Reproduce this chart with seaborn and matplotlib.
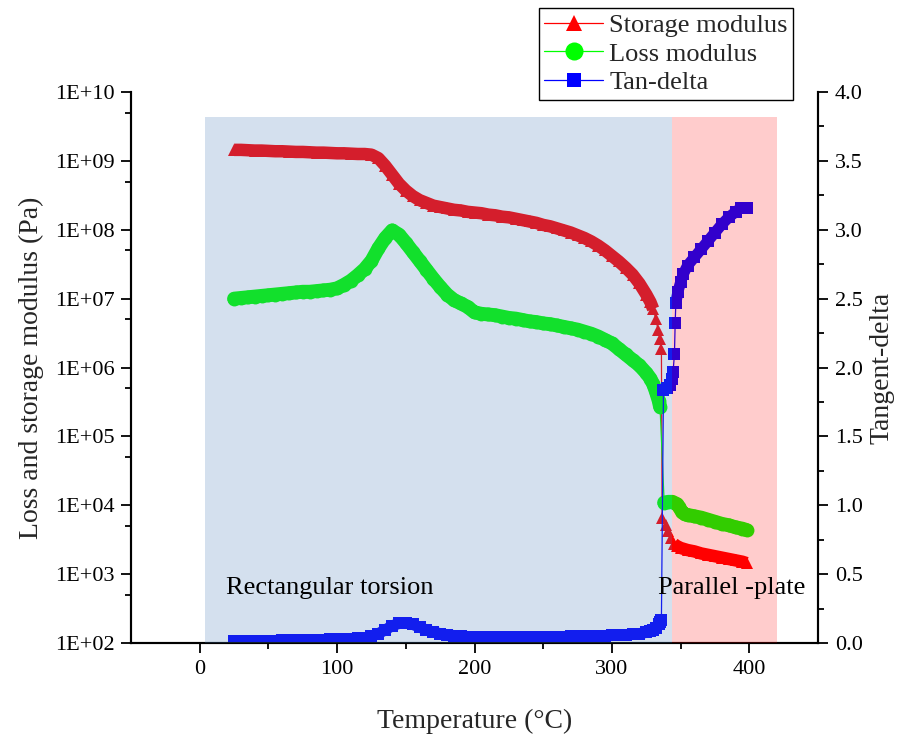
import numpy as np
import pandas as pd
import matplotlib
matplotlib.use("Agg")
import matplotlib.pyplot as plt
import seaborn as sns
from matplotlib.ticker import MultipleLocator, FixedLocator, FuncFormatter, FormatStrFormatter

# Temperatures of the main sweep (25 ... 325 C, every 5 C)
temp_grid = list(range(25, 330, 5))

# Storage modulus, log10(Pa)
storage_log_grid = [9.16, 9.16, 9.155, 9.15, 9.15, 9.145, 9.14, 9.14, 9.135, 9.13,
                    9.13, 9.125, 9.12, 9.12, 9.115, 9.11, 9.11, 9.105, 9.10, 9.10,
                    9.09, 9.04, 8.93, 8.80, 8.67, 8.57, 8.49, 8.43, 8.39, 8.35,
                    8.33, 8.31, 8.29, 8.28, 8.26, 8.25, 8.24, 8.22, 8.21, 8.19,
                    8.18, 8.16, 8.14, 8.12, 8.10, 8.07, 8.05, 8.02, 7.99, 7.96,
                    7.92, 7.88, 7.83, 7.77, 7.70, 7.62, 7.54, 7.45, 7.35, 7.22,
                    7.06]
storage_tail_t = [328, 330, 332, 333.5, 335, 336, 336.5, 339, 341, 343, 345, 347,
                  350, 355, 360, 365, 370, 375, 380, 385, 390, 395, 398]
storage_tail_log = [6.95, 6.85, 6.70, 6.55, 6.42, 6.27, 3.82, 3.72, 3.62, 3.52, 3.44, 3.41,
                    3.38, 3.35, 3.33, 3.30, 3.28, 3.26, 3.24, 3.22, 3.20, 3.18, 3.16]

# Loss modulus, log10(Pa)
loss_log_grid = [7.00, 7.01, 7.02, 7.03, 7.04, 7.05, 7.06, 7.07, 7.08, 7.09,
                 7.10, 7.10, 7.11, 7.12, 7.13, 7.15, 7.20, 7.26, 7.34, 7.43,
                 7.55, 7.73, 7.88, 7.99, 7.93, 7.81, 7.68, 7.55, 7.42, 7.29,
                 7.17, 7.06, 6.98, 6.93, 6.88, 6.80, 6.78, 6.77, 6.76, 6.74,
                 6.72, 6.71, 6.69, 6.67, 6.66, 6.64, 6.63, 6.61, 6.59, 6.57,
                 6.55, 6.52, 6.49, 6.45, 6.40, 6.35, 6.27, 6.19, 6.11, 6.03,
                 5.92]
loss_tail_t = [328, 330, 332, 334, 335, 338, 341, 344, 347, 349, 351, 353,
               355, 360, 365, 370, 375, 380, 385, 390, 395, 398]
loss_tail_log = [5.84, 5.76, 5.65, 5.52, 5.43, 4.04, 4.05, 4.05, 4.02, 3.97, 3.90, 3.87,
                 3.86, 3.84, 3.82, 3.79, 3.76, 3.73, 3.71, 3.68, 3.66, 3.64]

# Tan-delta
tan_grid = [0.012, 0.013, 0.014, 0.015, 0.016, 0.017, 0.018, 0.019, 0.020, 0.021,
            0.022, 0.023, 0.024, 0.025, 0.026, 0.027, 0.029, 0.031, 0.034, 0.038,
            0.048, 0.068, 0.095, 0.125, 0.142, 0.145, 0.135, 0.115, 0.095, 0.080,
            0.068, 0.060, 0.054, 0.050, 0.047, 0.045, 0.044, 0.044, 0.044, 0.044,
            0.045, 0.045, 0.045, 0.046, 0.046, 0.046, 0.047, 0.047, 0.047, 0.048,
            0.049, 0.050, 0.050, 0.051, 0.053, 0.055, 0.057, 0.060, 0.063, 0.068,
            0.077]
tan_tail_t = [328, 330, 332, 334, 335, 336, 337.5, 340, 342, 343.5, 344.5, 345.5,
              346, 346.5, 348, 350, 352, 355, 360, 365, 370, 375, 380, 385, 390, 394, 398]
tan_tail = [0.087, 0.097, 0.11, 0.135, 0.155, 0.17, 1.84, 1.85, 1.87, 1.92, 1.97, 2.10,
            2.32, 2.47, 2.55, 2.62, 2.68, 2.74, 2.80, 2.86, 2.92, 2.98, 3.04, 3.09, 3.13, 3.16, 3.16]

storage = pd.DataFrame({"T": temp_grid + storage_tail_t,
                        "G": 10 ** np.array(storage_log_grid + storage_tail_log)})
loss = pd.DataFrame({"T": temp_grid + loss_tail_t,
                     "G": 10 ** np.array(loss_log_grid + loss_tail_log)})
tand = pd.DataFrame({"T": temp_grid + tan_tail_t, "tan": tan_grid + tan_tail})

# pieces where the markers sit so close that they merge into a band
storage["band"] = np.where(storage["T"] <= 330, 0, np.where(storage["T"] >= 345, 1, -1))
loss["band"] = np.where(loss["T"] <= 335, 0, 1)
tand["band"] = np.where(tand["T"] <= 336, 0, np.where(tand["T"] >= 346.5, 1, -1))

sns.set_theme(style="white")
plt.rcParams["font.family"] = ["Liberation Serif", "DejaVu Serif"]
plt.rcParams["axes.edgecolor"] = "black"

fig = plt.figure(figsize=(9.17, 7.42), dpi=100)
ax = fig.add_axes([0.1429, 0.1334, 0.7492, 0.7426])
ax.set_yscale("log")
ax2 = ax.twinx()

# merged-marker bands
sns.lineplot(data=storage[storage["band"] >= 0], x="T", y="G", units="band", ax=ax,
             sort=False, estimator=None, color="#ff0000", lw=9,
             solid_capstyle="butt", legend=False)
sns.lineplot(data=loss, x="T", y="G", units="band", ax=ax, sort=False, estimator=None,
             color="#00ff00", lw=10, solid_capstyle="round", legend=False)
sns.lineplot(data=tand[tand["band"] >= 0], x="T", y="tan", units="band", ax=ax2,
             sort=False, estimator=None, color="#0000ff", lw=8,
             solid_capstyle="butt", legend=False)

# the measured points with their thin connecting lines
sns.lineplot(data=storage, x="T", y="G", ax=ax, sort=False, estimator=None,
             color="#ff0000", lw=0.9, marker="^", markersize=9, markeredgewidth=0,
             label="Storage modulus")
sns.lineplot(data=loss, x="T", y="G", ax=ax, sort=False, estimator=None,
             color="#00ff00", lw=0.9, marker="o", markersize=10, markeredgewidth=0,
             label="Loss modulus")
sns.lineplot(data=tand, x="T", y="tan", ax=ax2, sort=False, estimator=None,
             color="#0000ff", lw=0.9, marker="s", markersize=8, markeredgewidth=0,
             label="Tan-delta")

# shaded test regions drawn over the data, like the original
ax2.axvspan(4, 344, ymin=0, ymax=0.955, color="#4c81bb", alpha=0.24, lw=0, zorder=5)
ax2.axvspan(344, 420, ymin=0, ymax=0.955, color="#ff0000", alpha=0.2, lw=0, zorder=5)

ax2.text(0.138, 0.10, "Rectangular torsion", transform=ax2.transAxes,
         fontsize=19, va="center", color="black", zorder=10)
ax2.text(0.767, 0.10, "Parallel -plate", transform=ax2.transAxes,
         fontsize=19, va="center", color="black", zorder=10)

ax.set_xlim(-50, 450)
ax.set_ylim(1e2, 1e10)
ax2.set_ylim(0, 4)

ax.xaxis.set_major_locator(FixedLocator([0, 100, 200, 300, 400]))
ax.xaxis.set_minor_locator(FixedLocator([50, 150, 250, 350]))
ax.yaxis.set_major_locator(FixedLocator([10.0 ** k for k in range(2, 11)]))
ax.yaxis.set_minor_locator(FixedLocator([5 * 10.0 ** k for k in range(2, 10)]))
ax.yaxis.set_major_formatter(FuncFormatter(lambda v, p: "1E+%02d" % int(round(np.log10(v)))))
ax2.yaxis.set_major_locator(MultipleLocator(0.5))
ax2.yaxis.set_minor_locator(MultipleLocator(0.25))
ax2.yaxis.set_major_formatter(FormatStrFormatter("%.1f"))

ax.tick_params(which="both", direction="out", bottom=True, left=True, width=1.3,
               colors="black", labelsize=16)
ax.tick_params(which="major", length=7, pad=5)
ax.tick_params(which="minor", length=4)
ax2.tick_params(which="both", direction="out", right=True, left=False, width=1.3,
                colors="black", labelsize=16)
ax2.tick_params(which="major", length=7, pad=5)
ax2.tick_params(which="minor", length=4)

for a in (ax, ax2):
    a.spines["top"].set_visible(False)
    for s in ("left", "right", "bottom"):
        a.spines[s].set_linewidth(1.5)
        a.spines[s].set_color("black")

ax.set_xlabel("Temperature (\u00b0C)", fontsize=20, labelpad=22)
ax.set_ylabel("Loss and storage modulus (Pa)", fontsize=20, labelpad=8)
ax2.set_ylabel("Tangent-delta", fontsize=20, labelpad=5)

h1, l1 = ax.get_legend_handles_labels()
h2, l2 = ax2.get_legend_handles_labels()
for a in (ax, ax2):
    if a.get_legend() is not None:
        a.get_legend().remove()
leg = fig.legend(h1 + h2, l1 + l2, loc="upper left", bbox_to_anchor=(0.588, 0.989),
                 frameon=True, fancybox=False, edgecolor="black", framealpha=1,
                 fontsize=19, handlelength=2.2, handletextpad=0.25, borderpad=0.2,
                 labelspacing=0.2, borderaxespad=0, markerscale=1.3)
leg.get_frame().set_linewidth(1.0)

fig.savefig("out.png", dpi=100)
